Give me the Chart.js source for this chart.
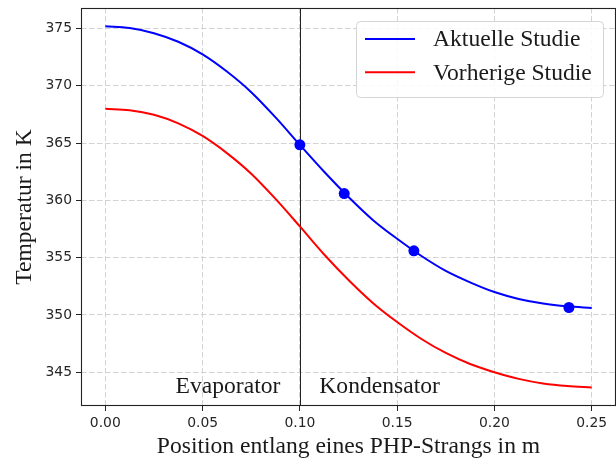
<!DOCTYPE html>
<html>
<head>
<meta charset="utf-8">
<script src="https://cdn.jsdelivr.net/npm/chart.js@4"></script>
<style>
    body { margin: 0; background: #fff; }
    #wrap { width: 616px; height: 459px; }
</style>
</head>
<body>
<div id="wrap"><canvas id="chart" width="616" height="459"></canvas></div>
<script>
// Werte
const positions = [0, 0.0125, 0.025, 0.0375, 0.05, 0.0625, 0.075, 0.0875, 0.1, 0.1125, 0.125,
    0.1375, 0.15, 0.1625, 0.175, 0.1875, 0.2, 0.2125, 0.225, 0.2375, 0.25];
const aktuelleStudie = [375.2, 375.05, 374.6, 373.85, 372.75, 371.25, 369.45, 367.25, 364.85, 362.5, 360.3,
    358.3, 356.65, 355.15, 353.85, 352.85, 352.0, 351.4, 351.0, 350.75, 350.6];
const vorherigeStudie = [368.0, 367.88, 367.48, 366.73, 365.63, 364.13, 362.33, 360.13, 357.73, 355.28, 353.05,
    351.05, 349.38, 347.9, 346.68, 345.72, 345.0, 344.42, 344.02, 343.79, 343.67];
const markerPos = [0.1, 0.1228, 0.1586, 0.2383];
const markerTemp = [364.85, 360.6, 355.6, 350.65];
const xTicks = [0, 0.05, 0.1, 0.15, 0.2, 0.25];
const yTicks = [345, 350, 355, 360, 365, 370, 375];
const seriesLabels = ['Aktuelle Studie', 'Vorherige Studie'];
const seriesColors = ['#0000ff', '#ff0000'];
const grenze = 0.1;

const serif = "'Liberation Serif', 'Times New Roman', serif";
Chart.defaults.font.family = "'DejaVu Sans', sans-serif";

function toPoints(xs, ys) {
    return xs.map((x, i) => ({ x: x, y: ys[i] }));
}

// ==============================================
// Rahmen, Trennlinie, Beschriftungen, Legende
const extras = {
    id: 'extras',
    beforeDatasetsDraw(chart) {
        const { ctx, chartArea, scales } = chart;
        const px = scales.x.getPixelForValue(grenze);
        ctx.save();
        ctx.strokeStyle = '#222';
        ctx.lineWidth = 1;
        ctx.beginPath();
        ctx.moveTo(Math.round(px) + 0.5, chartArea.top);
        ctx.lineTo(Math.round(px) + 0.5, chartArea.bottom);
        ctx.stroke();
        ctx.restore();
    },
    afterDraw(chart) {
        const { ctx, chartArea, scales } = chart;
        ctx.save();
        // Rahmen
        ctx.strokeStyle = '#222';
        ctx.lineWidth = 1.1;
        ctx.strokeRect(chartArea.left + 0.5, chartArea.top + 0.5,
            chartArea.right - chartArea.left - 1, chartArea.bottom - chartArea.top - 1);

        // Evaporator / Kondensator
        ctx.fillStyle = '#1a1a1a';
        ctx.font = '23.6px ' + serif;
        ctx.textBaseline = 'alphabetic';
        const ty = scales.y.getPixelForValue(343.2);
        ctx.textAlign = 'right';
        ctx.fillText('Evaporator', scales.x.getPixelForValue(0.09), ty);
        ctx.textAlign = 'left';
        ctx.fillText('Kondensator', scales.x.getPixelForValue(0.11), ty);

        // Legende
        const bx = 356, by = 21, bw = 247, bh = 76;
        ctx.beginPath();
        ctx.roundRect(bx + 0.5, by + 0.5, bw, bh, 4);
        ctx.fillStyle = 'rgba(255,255,255,0.85)';
        ctx.fill();
        ctx.strokeStyle = '#d5d5d5';
        ctx.lineWidth = 1;
        ctx.stroke();
        seriesLabels.forEach((label, i) => {
            const ly = 39 + i * 33.3;
            ctx.strokeStyle = seriesColors[i];
            ctx.lineWidth = 2;
            ctx.beginPath();
            ctx.moveTo(365, ly);
            ctx.lineTo(415, ly);
            ctx.stroke();
            ctx.fillStyle = '#1a1a1a';
            ctx.textAlign = 'left';
            ctx.textBaseline = 'middle';
            ctx.fillText(label, 433, ly + 1);
        });
        ctx.restore();
    }
};

const gridStyle = {
    color: '#d3d3d3',
    tickColor: '#222',
    tickLength: 5,
    tickBorderDash: [],
    tickWidth: 1
};

new Chart(document.getElementById('chart'), {
    type: 'line',
    data: {
        datasets: [
            {
                label: seriesLabels[0],
                data: toPoints(positions, aktuelleStudie),
                borderColor: seriesColors[0],
                borderWidth: 2,
                pointRadius: 0,
                cubicInterpolationMode: 'monotone',
                fill: false
            },
            {
                label: seriesLabels[1],
                data: toPoints(positions, vorherigeStudie),
                borderColor: seriesColors[1],
                borderWidth: 2,
                pointRadius: 0,
                cubicInterpolationMode: 'monotone',
                fill: false
            },
            {
                label: 'Messpunkte',
                data: toPoints(markerPos, markerTemp),
                showLine: false,
                pointRadius: 5.5,
                pointBackgroundColor: '#0000ff',
                pointBorderColor: '#0000ff',
                pointBorderWidth: 0
            }
        ]
    },
    options: {
        responsive: false,
        animation: false,
        layout: { autoPadding: false, padding: { top: 8, right: 0, left: 0, bottom: 0 } },
        plugins: {
            legend: { display: false },
            tooltip: { enabled: false }
        },
        scales: {
            x: {
                type: 'linear',
                min: -0.0125,
                max: 0.2625,
                afterBuildTicks: scale => { scale.ticks = xTicks.map(v => ({ value: v })); },
                afterFit: scale => {
                    scale.height = 53;
                    scale.paddingLeft = 0;
                    scale.paddingRight = 0;
                },
                border: { display: false, dash: [5.5, 2.5] },
                grid: gridStyle,
                ticks: {
                    color: '#262626',
                    font: { size: 13.9 },
                    padding: 4,
                    maxRotation: 0,
                    callback: v => v.toFixed(2)
                },
                title: {
                    display: true,
                    text: 'Position entlang eines PHP-Strangs in m',
                    color: '#1a1a1a',
                    font: { family: serif, size: 23.6 },
                    padding: { top: 0, bottom: -2 }
                }
            },
            y: {
                min: 342.05,
                max: 376.8,
                afterBuildTicks: scale => { scale.ticks = yTicks.map(v => ({ value: v })); },
                afterFit: scale => {
                    scale.width = 81;
                    scale.paddingTop = 0;
                    scale.paddingBottom = 0;
                },
                border: { display: false, dash: [5.5, 2.5] },
                grid: gridStyle,
                ticks: {
                    color: '#262626',
                    font: { size: 13.9 },
                    padding: 4,
                    callback: v => String(v)
                },
                title: {
                    display: true,
                    text: 'Temperatur in K',
                    color: '#1a1a1a',
                    font: { family: serif, size: 23.6 },
                    padding: { top: 11, bottom: 0 }
                }
            }
        }
    },
    plugins: [extras]
});
</script>
</body>
</html>
